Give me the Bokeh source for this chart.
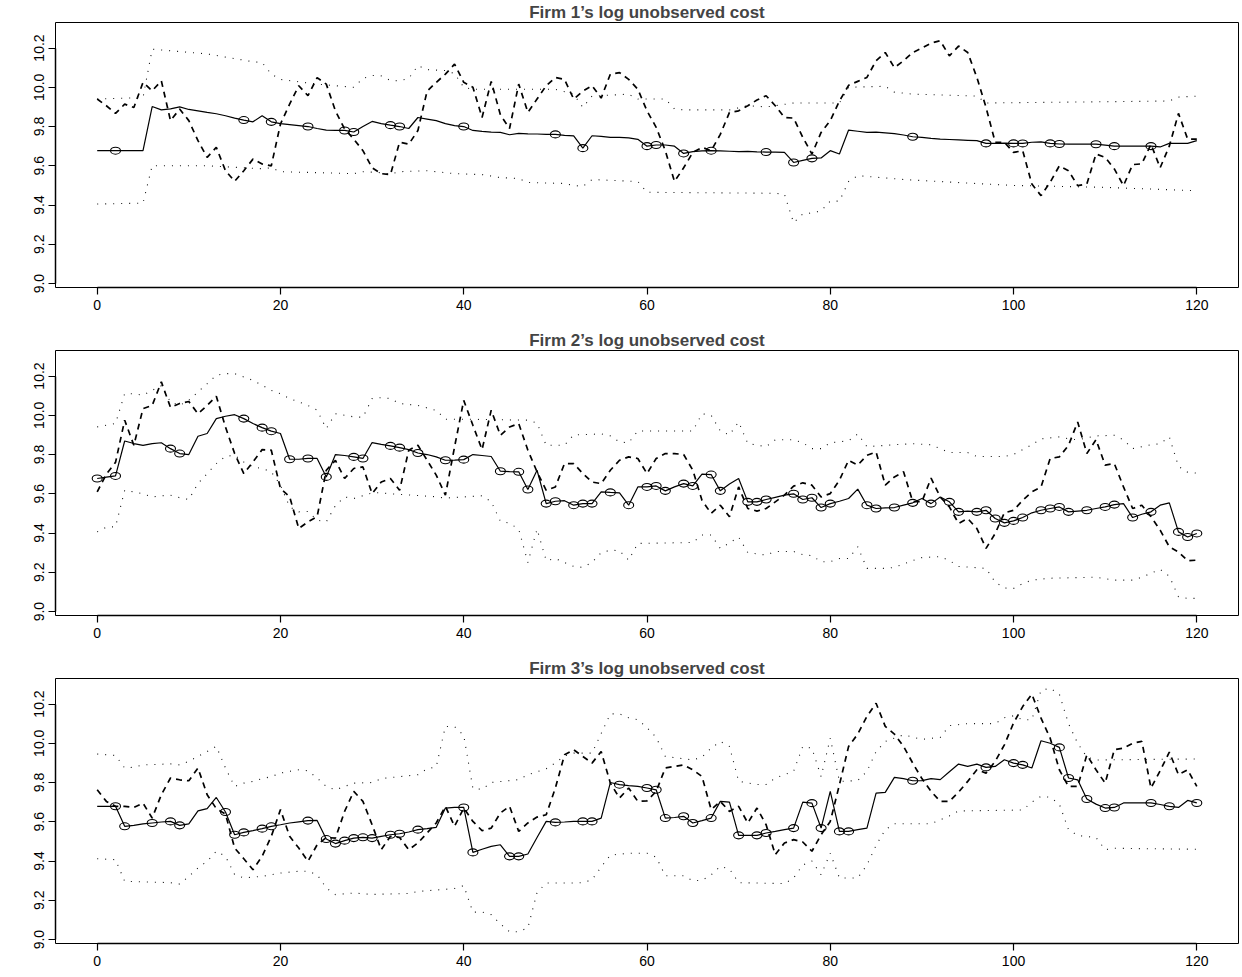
from bokeh.plotting import figure
from bokeh.layouts import column
from bokeh.models import Range1d, FixedTicker, PrintfTickFormatter
from bokeh.embed import file_html
from bokeh.resources import INLINE

t = list(range(121))

# ---------------- Firm 1 ----------------
p1_solid = [9.677, 9.677, 9.677, 9.677, 9.677, 9.677, 9.902, 9.885, 9.890, 9.900,
            9.887, 9.880, 9.872, 9.865, 9.855, 9.843, 9.833, 9.824, 9.855, 9.824,
            9.815, 9.810, 9.805, 9.800, 9.790, 9.782, 9.780, 9.780, 9.772, 9.800,
            9.826, 9.815, 9.807, 9.800, 9.790, 9.846, 9.838, 9.830, 9.815, 9.805,
            9.800, 9.780, 9.775, 9.772, 9.770, 9.758, 9.765, 9.763, 9.762, 9.760,
            9.760, 9.755, 9.752, 9.690, 9.753, 9.750, 9.745, 9.745, 9.742, 9.735,
            9.700, 9.706, 9.706, 9.700, 9.663, 9.672, 9.676, 9.677, 9.676, 9.674,
            9.672, 9.673, 9.671, 9.670, 9.670, 9.668, 9.617, 9.628, 9.638, 9.640,
            9.677, 9.660, 9.782, 9.776, 9.770, 9.772, 9.768, 9.764, 9.757, 9.748,
            9.745, 9.740, 9.736, 9.734, 9.732, 9.730, 9.728, 9.714, 9.714, 9.716,
            9.714, 9.714, 9.720, 9.722, 9.714, 9.711, 9.710, 9.710, 9.710, 9.710,
            9.705, 9.700, 9.700, 9.700, 9.700, 9.700, 9.696, 9.714, 9.714, 9.714,
            9.728]
p1_dashed = [9.940, 9.906, 9.867, 9.914, 9.897, 10.025, 9.982, 10.033, 9.830, 9.889,
             9.830, 9.728, 9.643, 9.694, 9.575, 9.521, 9.575, 9.634, 9.609, 9.600,
             9.813, 9.914, 10.008, 9.957, 10.049, 10.016, 9.880, 9.787, 9.736, 9.677,
             9.590, 9.560, 9.555, 9.720, 9.710, 9.780, 9.980, 10.025, 10.067, 10.118,
             10.025, 10.000, 9.846, 10.030, 9.860, 9.790, 10.016, 9.872, 9.940, 10.008,
             10.050, 10.040, 9.940, 9.980, 10.008, 9.945, 10.067, 10.075, 10.040, 9.990,
             9.880, 9.796, 9.677, 9.520, 9.590, 9.668, 9.694, 9.677, 9.760, 9.872,
             9.880, 9.906, 9.935, 9.957, 9.906, 9.846, 9.843, 9.745, 9.660, 9.770,
             9.830, 9.930, 10.010, 10.030, 10.050, 10.135, 10.177, 10.100, 10.135, 10.177,
             10.200, 10.225, 10.237, 10.160, 10.210, 10.177, 10.050, 9.897, 9.720, 9.720,
             9.668, 9.677, 9.507, 9.448, 9.516, 9.600, 9.575, 9.499, 9.507, 9.660,
             9.643, 9.584, 9.499, 9.606, 9.610, 9.710, 9.590, 9.700, 9.867, 9.736,
             9.736]
p1_upper_x = [0, 5, 6, 12, 17, 18, 19, 20, 24, 28, 29, 30, 31, 32, 33, 34, 35, 36, 38, 39,
              40, 41, 46, 50, 52, 53, 54, 58, 59, 62, 63, 64, 69, 71, 73, 74, 76, 81, 82, 86,
              87, 89, 96, 97, 117, 118, 120]
p1_upper_y = [9.940, 9.948, 10.194, 10.170, 10.130, 10.126, 10.067, 10.040, 10.016, 10.000,
              10.045, 10.060, 10.058, 10.035, 10.033, 10.045, 10.110, 10.090, 10.085, 10.070,
              10.000, 9.990, 9.990, 9.990, 9.965, 9.897, 9.955, 9.965, 9.940, 9.940,
              9.890, 9.885, 9.885, 9.906, 9.900, 9.906, 9.920, 9.920, 10.000, 10.005,
              9.975, 9.965, 9.955, 9.920, 9.930, 9.950, 9.955]
p1_lower_x = [0, 5, 6, 12, 18, 19, 20, 28, 29, 31, 32, 33, 36, 37, 39, 42, 44, 46, 47, 51,
              52, 53, 54, 59, 60, 74, 75, 76, 77, 78, 79, 80, 81, 82, 83, 88, 97, 100, 110, 120]
p1_lower_y = [9.405, 9.410, 9.600, 9.600, 9.585, 9.590, 9.570, 9.560, 9.570, 9.565,
              9.558, 9.570, 9.575, 9.570, 9.560, 9.555, 9.540, 9.535, 9.515, 9.510,
              9.500, 9.495, 9.530, 9.520, 9.465, 9.460, 9.455, 9.310, 9.355, 9.360,
              9.370, 9.420, 9.420, 9.520, 9.550, 9.530, 9.507, 9.500, 9.490, 9.473]
p1_marks = [2, 16, 19, 23, 27, 28, 32, 33, 40, 50, 53, 60, 61, 64, 67, 73, 76, 78, 89, 97,
            100, 101, 104, 105, 109, 111, 115]

# ---------------- Firm 2 ----------------
p2_solid = [9.678, 9.685, 9.691, 9.869, 9.856, 9.847, 9.856, 9.860, 9.830, 9.805,
            9.800, 9.893, 9.907, 9.983, 9.995, 10.003, 9.983, 9.958, 9.937, 9.919,
            9.907, 9.776, 9.776, 9.780, 9.780, 9.686, 9.800, 9.795, 9.788, 9.780,
            9.861, 9.852, 9.844, 9.835, 9.825, 9.808, 9.800, 9.788, 9.771, 9.772,
            9.774, 9.800, 9.795, 9.790, 9.715, 9.713, 9.712, 9.622, 9.720, 9.550,
            9.562, 9.565, 9.542, 9.550, 9.550, 9.610, 9.607, 9.605, 9.542, 9.635,
            9.635, 9.640, 9.615, 9.635, 9.652, 9.640, 9.700, 9.698, 9.615, 9.650,
            9.678, 9.559, 9.559, 9.571, 9.582, 9.593, 9.600, 9.571, 9.580, 9.530,
            9.550, 9.562, 9.576, 9.624, 9.542, 9.525, 9.528, 9.530, 9.542, 9.554,
            9.576, 9.550, 9.584, 9.559, 9.508, 9.512, 9.508, 9.516, 9.474, 9.452,
            9.462, 9.479, 9.503, 9.516, 9.525, 9.533, 9.508, 9.512, 9.516, 9.525,
            9.533, 9.545, 9.550, 9.479, 9.496, 9.508, 9.542, 9.554, 9.406, 9.380,
            9.398]
p2_dashed = [9.610, 9.700, 9.760, 9.975, 9.847, 10.034, 10.050, 10.170, 10.040, 10.060,
             10.070, 10.008, 10.050, 10.097, 9.940, 9.805, 9.703, 9.762, 9.825, 9.822,
             9.627, 9.585, 9.423, 9.457, 9.483, 9.720, 9.770, 9.678, 9.729, 9.737,
             9.601, 9.660, 9.678, 9.618, 9.822, 9.847, 9.771, 9.695, 9.593, 9.839,
             10.076, 9.949, 9.825, 10.026, 9.898, 9.940, 9.958, 9.822, 9.712, 9.618,
             9.635, 9.754, 9.754, 9.703, 9.660, 9.652, 9.720, 9.771, 9.788, 9.780,
             9.703, 9.780, 9.805, 9.805, 9.800, 9.720, 9.567, 9.500, 9.542, 9.483,
             9.635, 9.525, 9.512, 9.525, 9.559, 9.593, 9.639, 9.656, 9.644, 9.584,
             9.601, 9.669, 9.771, 9.746, 9.796, 9.813, 9.644, 9.686, 9.712, 9.560,
             9.560, 9.680, 9.584, 9.533, 9.449, 9.474, 9.423, 9.322, 9.398, 9.503,
             9.516, 9.567, 9.610, 9.635, 9.780, 9.788, 9.847, 9.966, 9.805, 9.876,
             9.746, 9.754, 9.635, 9.525, 9.542, 9.483, 9.415, 9.330, 9.304, 9.259,
             9.262]
p2_upper_x = [0, 2, 3, 4, 5, 6, 7, 8, 9, 10, 11, 12, 13, 14, 15, 16, 17, 18, 19, 20,
              21, 22, 23, 24, 25, 26, 27, 28, 29, 30, 31, 32, 33, 35, 37, 38, 40, 47, 48, 49,
              51, 52, 55, 56, 57, 58, 59, 65, 66, 67, 68, 69, 70, 71, 73, 74, 76, 77, 78, 79,
              80, 82, 83, 84, 87, 89, 91, 93, 95, 96, 99, 100, 102, 103, 105, 106, 107, 109,
              111, 112, 113, 115, 116, 117, 118, 119, 120]
p2_upper_y = [9.941, 9.958, 10.110, 10.110, 10.102, 10.127, 10.150, 10.068, 10.050, 10.076,
              10.119, 10.161, 10.204, 10.212, 10.212, 10.195, 10.178, 10.153, 10.127, 10.110,
              10.085, 10.068, 10.050, 10.026, 9.932, 10.008, 10.000, 9.992, 9.990, 10.085,
              10.090, 10.085, 10.060, 10.050, 10.025, 9.980, 9.980, 9.975, 9.960, 9.847,
              9.847, 9.900, 9.905, 9.895, 9.864, 9.860, 9.920, 9.920, 10.008, 10.000,
              9.920, 9.900, 9.966, 9.856, 9.840, 9.875, 9.875, 9.860, 9.830, 9.830,
              9.860, 9.870, 9.905, 9.840, 9.850, 9.855, 9.850, 9.810, 9.810, 9.790,
              9.790, 9.800, 9.850, 9.880, 9.890, 9.880, 9.875, 9.895, 9.898, 9.875,
              9.830, 9.850, 9.855, 9.890, 9.740, 9.710, 9.705]
p2_lower_x = [0, 1, 2, 3, 4, 5, 6, 7, 8, 9, 10, 11, 12, 13, 14, 15, 16, 17, 18, 19,
              20, 21, 22, 23, 24, 25, 26, 27, 28, 29, 30, 31, 32, 37, 38, 42, 43, 44, 45, 46,
              47, 48, 49, 50, 51, 52, 53, 54, 55, 56, 57, 58, 59, 65, 66, 67, 68, 69, 70, 71,
              73, 74, 76, 77, 78, 79, 80, 81, 82, 83, 84, 86, 87, 89, 90, 92, 93, 94, 97, 98,
              99, 100, 101, 102, 104, 109, 111, 113, 114, 116, 117, 118, 119, 120]
p2_lower_y = [9.406, 9.430, 9.432, 9.618, 9.610, 9.600, 9.584, 9.590, 9.593, 9.580,
              9.571, 9.652, 9.703, 9.754, 9.791, 9.796, 9.762, 9.737, 9.729, 9.712,
              9.644, 9.534, 9.508, 9.510, 9.466, 9.457, 9.540, 9.584, 9.576, 9.590,
              9.605, 9.605, 9.600, 9.585, 9.578, 9.590, 9.560, 9.460, 9.450, 9.420,
              9.250, 9.420, 9.260, 9.270, 9.250, 9.230, 9.225, 9.250, 9.300, 9.313,
              9.310, 9.262, 9.347, 9.352, 9.390, 9.390, 9.322, 9.350, 9.380, 9.300,
              9.288, 9.306, 9.306, 9.290, 9.285, 9.254, 9.254, 9.270, 9.270, 9.330,
              9.220, 9.220, 9.225, 9.260, 9.275, 9.280, 9.260, 9.230, 9.220, 9.150,
              9.120, 9.118, 9.143, 9.160, 9.170, 9.175, 9.160, 9.160, 9.175, 9.215,
              9.180, 9.076, 9.067, 9.067]
p2_marks = [0, 2, 8, 9, 16, 18, 19, 21, 23, 25, 28, 29, 32, 33, 35, 38, 40, 44, 46, 47,
            49, 50, 52, 53, 54, 56, 58, 60, 61, 62, 64, 65, 67, 68, 71, 72, 73, 76, 77, 78,
            79, 80, 84, 85, 87, 89, 91, 93, 94, 96, 97, 98, 99, 100, 101, 103, 104, 105, 106,
            108, 110, 111, 113, 115, 118, 119, 120]

# ---------------- Firm 3 ----------------
p3_solid = [9.679, 9.679, 9.679, 9.577, 9.582, 9.589, 9.594, 9.599, 9.602, 9.582,
            9.589, 9.656, 9.667, 9.724, 9.650, 9.534, 9.546, 9.555, 9.565, 9.577,
            9.585, 9.594, 9.600, 9.606, 9.607, 9.512, 9.489, 9.504, 9.517, 9.521,
            9.517, 9.526, 9.534, 9.539, 9.548, 9.560, 9.565, 9.572, 9.670, 9.673,
            9.673, 9.444, 9.460, 9.475, 9.483, 9.424, 9.424, 9.436, 9.520, 9.602,
            9.597, 9.599, 9.602, 9.602, 9.602, 9.619, 9.800, 9.789, 9.784, 9.780,
            9.772, 9.763, 9.619, 9.622, 9.628, 9.594, 9.606, 9.619, 9.704, 9.700,
            9.531, 9.531, 9.531, 9.543, 9.551, 9.560, 9.568, 9.700, 9.695, 9.568,
            9.755, 9.551, 9.551, 9.560, 9.568, 9.746, 9.750, 9.826, 9.820, 9.809,
            9.810, 9.820, 9.815, 9.855, 9.894, 9.882, 9.894, 9.877, 9.882, 9.916,
            9.899, 9.890, 9.874, 10.013, 10.000, 9.979, 9.823, 9.814, 9.716, 9.690,
            9.670, 9.673, 9.696, 9.696, 9.696, 9.696, 9.688, 9.679, 9.673, 9.709,
            9.696]
p3_dashed = [9.763, 9.704, 9.679, 9.679, 9.673, 9.695, 9.619, 9.738, 9.823, 9.814,
             9.809, 9.874, 9.738, 9.667, 9.640, 9.466, 9.412, 9.356, 9.424, 9.526,
             9.662, 9.526, 9.466, 9.399, 9.483, 9.520, 9.517, 9.653, 9.755, 9.704,
             9.585, 9.458, 9.526, 9.520, 9.458, 9.492, 9.543, 9.594, 9.679, 9.577,
             9.670, 9.602, 9.555, 9.568, 9.645, 9.679, 9.551, 9.594, 9.624, 9.636,
             9.772, 9.941, 9.967, 9.933, 9.899, 9.958, 9.797, 9.721, 9.772, 9.704,
             9.707, 9.755, 9.874, 9.882, 9.890, 9.865, 9.831, 9.662, 9.704, 9.653,
             9.679, 9.594, 9.670, 9.585, 9.433, 9.492, 9.509, 9.497, 9.450, 9.534,
             9.602, 9.789, 9.984, 10.047, 10.137, 10.204, 10.086, 10.047, 9.984, 9.899,
             9.820, 9.755, 9.704, 9.704, 9.751, 9.806, 9.865, 9.848, 9.908, 9.992,
             10.103, 10.187, 10.250, 10.128, 10.026, 9.865, 9.780, 9.780, 9.941, 9.865,
             9.797, 9.967, 9.975, 10.000, 10.010, 9.772, 9.860, 9.955, 9.840, 9.865,
             9.780]
p3_upper_x = [0, 2, 3, 4, 5, 8, 9, 10, 11, 12, 13, 14, 15, 16, 17, 18, 19, 20, 21, 22,
              23, 24, 25, 26, 27, 28, 30, 31, 35, 36, 37, 38, 39, 40, 41, 42, 43, 46, 47, 49,
              50, 51, 52, 54, 55, 56, 57, 58, 59, 60, 61, 62, 65, 66, 67, 68, 69, 70, 72, 73,
              74, 76, 77, 78, 79, 80, 81, 83, 84, 85, 86, 87, 88, 90, 92, 93, 95, 98, 99, 100,
              101, 102, 103, 104, 105, 106, 107, 108, 109, 120]
p3_upper_y = [9.945, 9.938, 9.874, 9.878, 9.890, 9.895, 9.890, 9.908, 9.933, 9.958,
              9.984, 9.874, 9.780, 9.797, 9.806, 9.820, 9.830, 9.848, 9.857, 9.865,
              9.860, 9.823, 9.780, 9.763, 9.780, 9.797, 9.800, 9.820, 9.840, 9.870,
              9.880, 10.086, 10.085, 10.040, 9.770, 9.765, 9.800, 9.815, 9.840, 9.870,
              9.900, 9.935, 9.950, 9.950, 10.050, 10.150, 10.150, 10.130, 10.120, 10.080,
              10.030, 9.933, 9.915, 9.930, 9.975, 10.009, 9.984, 9.806, 9.790, 9.790,
              9.823, 9.857, 9.984, 9.975, 9.830, 10.026, 9.806, 9.810, 9.857, 9.958,
              10.009, 10.026, 10.043, 10.020, 10.030, 10.090, 10.100, 10.100, 10.130, 10.140,
              10.120, 10.120, 10.270, 10.280, 10.250, 10.100, 10.000, 9.930, 9.915, 9.920]
p3_lower_x = [0, 2, 3, 8, 9, 10, 11, 12, 13, 14, 15, 16, 18, 20, 22, 23, 24, 25, 26, 28,
              30, 34, 35, 39, 40, 41, 42, 43, 44, 45, 46, 47, 48, 49, 52, 53, 54, 55, 56, 58,
              60, 61, 62, 64, 65, 66, 67, 68, 69, 70, 75, 76, 77, 78, 79, 80, 81, 83, 84, 85,
              86, 87, 91, 92, 93, 94, 101, 102, 103, 104, 105, 106, 107, 109, 110, 111, 120]
p3_lower_y = [9.412, 9.407, 9.297, 9.290, 9.283, 9.322, 9.365, 9.399, 9.450, 9.424,
              9.331, 9.314, 9.322, 9.339, 9.348, 9.348, 9.331, 9.263, 9.229, 9.237,
              9.230, 9.235, 9.245, 9.260, 9.275, 9.140, 9.140, 9.127, 9.080, 9.040,
              9.040, 9.060, 9.240, 9.288, 9.288, 9.290, 9.305, 9.370, 9.430, 9.440,
              9.440, 9.420, 9.325, 9.325, 9.300, 9.302, 9.330, 9.373, 9.360, 9.290,
              9.285, 9.314, 9.380, 9.400, 9.330, 9.440, 9.314, 9.314, 9.380, 9.480,
              9.560, 9.590, 9.590, 9.610, 9.630, 9.655, 9.660, 9.700, 9.730, 9.725,
              9.690, 9.560, 9.530, 9.520, 9.458, 9.465, 9.460]
p3_marks = [2, 3, 6, 8, 9, 14, 15, 16, 18, 19, 23, 25, 26, 27, 28, 29, 30, 32, 33, 35,
            40, 41, 45, 46, 50, 53, 54, 57, 60, 61, 62, 64, 65, 67, 70, 72, 73, 76, 78, 79,
            81, 82, 89, 97, 100, 101, 105, 106, 108, 110, 111, 115, 117, 120]

titles = ["Firm 1\u2019s log unobserved cost",
          "Firm 2\u2019s log unobserved cost",
          "Firm 3\u2019s log unobserved cost"]
x_ticks = [0, 20, 40, 60, 80, 100, 120]
y_ticks = [9.0, 9.2, 9.4, 9.6, 9.8, 10.0, 10.2]

FONT = "Liberation Sans"


def make_panel(title, solid, dashed, ux, uy, lx, ly, marks, bottom):
    p = figure(frame_width=1183, frame_height=265,
               x_range=Range1d(-4.55, 124.55), y_range=Range1d(8.98, 10.33),
               output_backend="svg", toolbar_location=None,
               min_border_left=55, min_border_right=2, min_border_top=22,
               min_border_bottom=bottom)
    p.title.text = title
    p.title.align = "center"
    p.title.text_font = FONT
    p.title.text_font_style = "bold"
    p.title.text_font_size = "17px"
    p.title.standoff = 1
    p.xgrid.grid_line_color = None
    p.ygrid.grid_line_color = None
    p.outline_line_color = "black"
    p.outline_line_width = 1
    p.background_fill_color = "white"
    p.border_fill_color = "white"

    p.xaxis.ticker = FixedTicker(ticks=x_ticks)
    p.xaxis.bounds = (0, 120)
    p.yaxis.ticker = FixedTicker(ticks=y_ticks)
    p.yaxis.bounds = (9.0, 10.2)
    p.yaxis.formatter = PrintfTickFormatter(format="%.1f")
    p.yaxis.major_label_orientation = "vertical"
    for ax in (p.xaxis, p.yaxis):
        ax.major_tick_in = 0
        ax.major_tick_out = 7
        ax.minor_tick_line_color = None
        ax.axis_line_width = 1.5
        ax.major_tick_line_width = 1.2
        ax.major_label_text_font = FONT
        ax.major_label_text_font_size = "14px"
        ax.major_label_text_color = "black"
    p.xaxis.major_label_standoff = 5
    p.yaxis.major_label_standoff = 4

    p.line(ux, uy, line_color="#111111", line_width=1.1, line_dash="1 7")
    p.line(lx, ly, line_color="#111111", line_width=1.1, line_dash="1 7")
    p.line(t, dashed, line_color="black", line_width=1.7, line_dash="6 5")
    p.line(t, solid, line_color="black", line_width=1.2)
    p.ellipse(x=marks, y=[solid[i] for i in marks], width=10, height=7,
              width_units="screen", height_units="screen",
              fill_color=None, line_color="black", line_width=1.1)
    return p


f1 = make_panel(titles[0], p1_solid, p1_dashed, p1_upper_x, p1_upper_y,
                p1_lower_x, p1_lower_y, p1_marks, 41)
f2 = make_panel(titles[1], p2_solid, p2_dashed, p2_upper_x, p2_upper_y,
                p2_lower_x, p2_lower_y, p2_marks, 41)
f3 = make_panel(titles[2], p3_solid, p3_dashed, p3_upper_x, p3_upper_y,
                p3_lower_x, p3_lower_y, p3_marks, 30)

layout = column(f1, f2, f3, spacing=0)
open("out.html", "w").write(file_html(layout, INLINE))
